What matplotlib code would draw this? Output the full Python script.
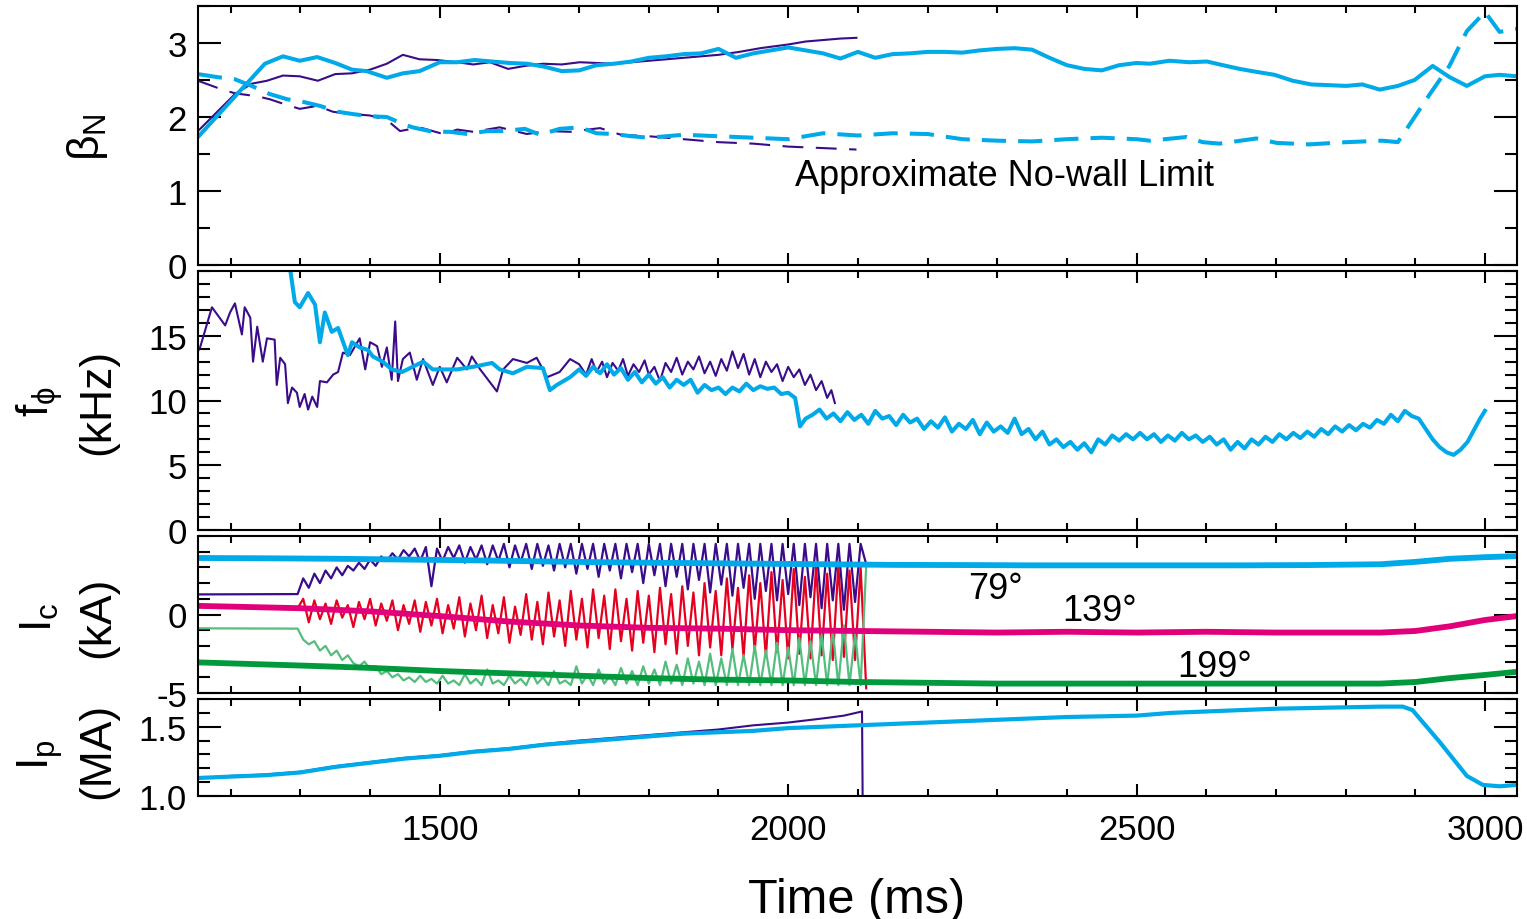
import numpy as np
import matplotlib
matplotlib.use('Agg')
import matplotlib.pyplot as plt
from matplotlib.ticker import MultipleLocator, FixedLocator, FormatStrFormatter

plt.rcParams['font.family'] = 'Liberation Sans'
plt.rcParams['mathtext.fontset'] = 'custom'
plt.rcParams['mathtext.rm'] = 'Liberation Sans'
plt.rcParams['mathtext.it'] = 'Liberation Sans'
plt.rcParams['axes.unicode_minus'] = False

CYAN = '#00A9E8'
PURPLE = '#3A0C8A'
MAGENTA = '#E2007A'
RED = '#E6001F'
GREEN = '#009A3D'
LGREEN = '#55BD7D'

# ---- beta_N panel ----
bn_cyan_t = [1153, 1249, 1275, 1299, 1324, 1350, 1374, 1395, 1424, 1447, 1471, 1500, 1525, 1550, 1575,
             1600, 1625, 1650, 1675, 1700, 1725, 1750, 1775, 1800, 1825, 1850, 1875, 1900, 1925, 1950,
             1975, 2000, 2025, 2050, 2075, 2100, 2125, 2150, 2175, 2200, 2225, 2250, 2275, 2300, 2325,
             2350, 2375, 2400, 2425, 2450, 2475, 2500, 2519, 2547, 2576, 2601, 2624, 2648, 2672, 2698,
             2724, 2751, 2777, 2801, 2824, 2849, 2875, 2899, 2925, 2949, 2974, 3000, 3021, 3046]
bn_cyan = [1.73, 2.72, 2.82, 2.76, 2.81, 2.73, 2.64, 2.62, 2.53, 2.59, 2.62, 2.74, 2.74, 2.77, 2.75,
           2.73, 2.72, 2.68, 2.62, 2.63, 2.70, 2.72, 2.75, 2.80, 2.82, 2.85, 2.86, 2.92, 2.80, 2.86,
           2.90, 2.94, 2.90, 2.86, 2.79, 2.88, 2.80, 2.85, 2.86, 2.88, 2.88, 2.87, 2.90, 2.92, 2.93,
           2.91, 2.80, 2.70, 2.65, 2.63, 2.70, 2.73, 2.72, 2.76, 2.74, 2.75, 2.70, 2.65, 2.61, 2.57,
           2.49, 2.44, 2.43, 2.42, 2.44, 2.37, 2.42, 2.50, 2.69, 2.54, 2.42, 2.55, 2.57, 2.55]

bn_purple_t = [1153, 1206, 1230, 1252, 1275, 1299, 1325, 1350, 1374, 1400, 1424, 1447, 1471, 1496,
               1525, 1548, 1572, 1598, 1622, 1648, 1675, 1701, 1750, 1800, 1850, 1900, 1930, 1960,
               2000, 2025, 2050, 2075, 2098]
bn_purple = [1.81, 2.31, 2.45, 2.49, 2.56, 2.55, 2.49, 2.58, 2.59, 2.64, 2.72, 2.84, 2.78, 2.77,
             2.74, 2.71, 2.74, 2.65, 2.69, 2.72, 2.71, 2.74, 2.72, 2.76, 2.80, 2.84, 2.88, 2.93,
             2.98, 3.02, 3.04, 3.06, 3.07]

nw_cyan_t = [1153, 1180, 1206, 1230, 1256, 1281, 1306, 1328, 1354, 1375, 1400, 1424, 1446, 1461, 1490,
             1514, 1540, 1568, 1591, 1622, 1644, 1672, 1701, 1725, 1750, 1775, 1800, 1850, 1900, 1950,
             2000, 2050, 2100, 2150, 2200, 2250, 2300, 2350, 2400, 2450, 2500, 2519, 2572, 2595, 2619,
             2672, 2701, 2748, 2801, 2853, 2875, 2921, 2949, 2974, 3000, 3021, 3046]
nw_cyan = [2.58, 2.54, 2.51, 2.42, 2.31, 2.24, 2.20, 2.15, 2.07, 2.04, 2.01, 2.00, 1.91, 1.86, 1.80,
           1.80, 1.77, 1.81, 1.81, 1.84, 1.76, 1.84, 1.86, 1.78, 1.77, 1.74, 1.72, 1.76, 1.74, 1.72,
           1.70, 1.78, 1.75, 1.78, 1.77, 1.70, 1.68, 1.67, 1.70, 1.72, 1.70, 1.68, 1.73, 1.66, 1.64,
           1.71, 1.65, 1.63, 1.66, 1.68, 1.66, 2.31, 2.69, 3.16, 3.42, 3.15, 3.19]

nw_purple_t = [1153, 1185, 1206, 1238, 1256, 1275, 1299, 1324, 1347, 1375, 1400, 1424, 1443, 1471,
               1505, 1525, 1548, 1586, 1625, 1654, 1687, 1730, 1760, 1800, 1850, 1900, 1950, 2000,
               2050, 2098]
nw_purple = [2.49, 2.38, 2.32, 2.28, 2.24, 2.18, 2.11, 2.15, 2.07, 2.04, 2.02, 1.96, 1.81, 1.86,
             1.77, 1.83, 1.80, 1.86, 1.77, 1.81, 1.80, 1.85, 1.76, 1.74, 1.70, 1.66, 1.64, 1.60,
             1.58, 1.56]

# ---- f_phi panel ----
f_purple_t = [1153, 1156, 1173, 1192, 1199, 1206, 1216, 1220, 1228, 1232, 1238, 1246, 1252, 1263, 1266,
              1271, 1278, 1282, 1288, 1295, 1299, 1306, 1311, 1317, 1324, 1328, 1338, 1347, 1354, 1361,
              1371, 1385, 1393, 1400, 1410, 1417, 1424, 1431, 1436, 1440, 1447, 1457, 1467, 1476, 1490,
              1500, 1510, 1525, 1539, 1546, 1558, 1582, 1591, 1605, 1625, 1639, 1654, 1672, 1687,
              1700, 1710, 1718, 1725, 1733, 1740, 1748, 1756, 1763, 1770, 1778, 1786, 1794, 1800, 1808,
              1816, 1824, 1832, 1840, 1848, 1856, 1864, 1872, 1880, 1888, 1896, 1904, 1912, 1920, 1928,
              1936, 1944, 1952, 1960, 1968, 1976, 1984, 1992, 2000, 2008, 2016, 2024, 2032, 2040, 2048,
              2056, 2062, 2067]
f_purple = [13.8, 14.1, 17.2, 15.8, 16.8, 17.5, 15.1, 17.2, 16.4, 13.0, 15.7, 13.0, 14.8, 14.7, 11.2,
            13.3, 12.8, 9.8, 11.0, 10.6, 9.5, 10.5, 9.3, 10.3, 9.5, 11.5, 11.4, 12.0, 12.2, 13.7,
            13.5, 14.8, 12.4, 14.5, 14.2, 12.6, 14.1, 11.6, 16.1, 11.5, 13.2, 13.7, 11.6, 13.2, 11.2,
            12.6, 11.4, 13.3, 12.4, 13.4, 12.4, 10.7, 12.4, 13.2, 12.9, 13.3, 11.8, 12.2, 13.2,
            12.8, 12.0, 13.2, 12.2, 13.0, 11.8, 12.9, 12.3, 13.2, 11.9, 12.8, 12.2, 13.1, 12.0, 12.6,
            11.5, 12.9, 12.2, 13.3, 12.0, 13.0, 12.4, 13.4, 12.1, 13.0, 11.9, 13.2, 12.3, 13.8, 12.5,
            13.6, 12.0, 13.2, 11.8, 13.0, 12.2, 12.8, 11.5, 12.6, 11.8, 12.4, 11.2, 12.0, 10.8, 11.5,
            10.2, 10.8, 9.8]

f_cyan_t = [1283, 1292, 1299, 1311, 1321, 1328, 1335, 1345, 1354, 1368, 1374, 1385, 1397, 1404, 1418,
            1431, 1446, 1461, 1476, 1490, 1505, 1525, 1548, 1575, 1586, 1605, 1625, 1648, 1658, 1668,
            1687, 1700, 1710, 1720, 1730, 1740, 1750, 1760, 1770, 1780, 1790, 1800, 1810, 1820, 1830,
            1840, 1850, 1860, 1870, 1880, 1890, 1900, 1910, 1920, 1930, 1940, 1950, 1960, 1970, 1980,
            1990, 2000, 2010, 2017, 2025, 2035, 2045, 2055, 2065, 2075, 2085, 2095, 2105, 2115, 2125,
            2135, 2145, 2155, 2165, 2175, 2185, 2195, 2205, 2215, 2225, 2235, 2245, 2255, 2265, 2275,
            2285, 2295, 2305, 2315, 2325, 2335, 2345, 2355, 2365, 2375, 2385, 2395, 2405, 2415, 2425,
            2435, 2445, 2455, 2465, 2475, 2485, 2495, 2505, 2515, 2525, 2535, 2545, 2555, 2565, 2575,
            2585, 2595, 2605, 2615, 2625, 2635, 2645, 2655, 2665, 2675, 2685, 2695, 2705, 2715, 2725,
            2735, 2745, 2755, 2765, 2775, 2785, 2795, 2805, 2815, 2825, 2835, 2845, 2855, 2865, 2875,
            2885, 2895, 2905, 2915, 2925, 2935, 2945, 2955, 2965, 2975, 2985, 2993, 3000]
f_cyan = [21.0, 17.6, 17.2, 18.3, 17.4, 14.5, 16.8, 15.3, 15.6, 13.5, 14.5, 14.1, 13.9, 13.4, 13.0,
          12.4, 12.2, 12.6, 13.0, 12.4, 12.4, 12.4, 12.6, 12.9, 12.4, 12.1, 12.6, 12.5, 10.8, 11.2,
          11.8, 12.4, 11.9, 12.6, 12.1, 12.8, 12.0, 12.5, 11.6, 12.2, 11.4, 12.0, 11.3, 11.8, 11.0,
          11.6, 11.2, 11.6, 10.6, 11.2, 10.8, 11.0, 10.5, 11.0, 10.7, 11.3, 10.8, 11.1, 10.9, 11.0,
          10.5, 10.6, 10.2, 8.0, 8.6, 8.9, 9.3, 8.6, 9.0, 8.4, 9.1, 8.5, 8.9, 8.2, 9.2,
          8.6, 8.8, 8.1, 8.9, 8.3, 8.6, 7.8, 8.4, 7.9, 8.7, 7.6, 8.2, 7.8, 8.5, 7.4,
          8.3, 7.6, 8.0, 7.5, 8.6, 7.4, 7.8, 7.0, 7.6, 6.6, 7.0, 6.4, 6.8, 6.2, 6.7,
          6.0, 7.0, 6.6, 7.3, 6.9, 7.4, 7.0, 7.5, 7.0, 7.4, 6.8, 7.3, 6.9, 7.5, 7.0,
          7.3, 6.8, 7.2, 6.6, 7.0, 6.2, 6.8, 6.3, 7.0, 6.6, 7.2, 6.8, 7.4, 7.0, 7.5,
          7.1, 7.6, 7.2, 7.8, 7.4, 8.0, 7.6, 8.1, 7.7, 8.2, 7.9, 8.5, 8.2, 8.9, 8.4,
          9.2, 8.8, 8.6, 7.8, 7.0, 6.4, 6.0, 5.8, 6.2, 6.8, 7.8, 8.6, 9.2]

# ---- coil current panel (kA) ----
ic79_t = [1153, 1250, 1350, 1450, 1550, 1650, 1750, 1850, 1950, 2050, 2150, 2250, 2350, 2450, 2550,
          2650, 2750, 2850, 2900, 2950, 3000, 3046]
ic79 = [3.6, 3.58, 3.55, 3.5, 3.45, 3.38, 3.32, 3.28, 3.24, 3.2, 3.16, 3.15, 3.13, 3.13, 3.13,
        3.13, 3.15, 3.2, 3.35, 3.55, 3.65, 3.72]
ic139_t = [1153, 1300, 1400, 1500, 1600, 1700, 1800, 1900, 2000, 2100, 2200, 2300, 2400, 2500, 2600,
           2700, 2800, 2850, 2900, 2950, 3000, 3046]
ic139 = [0.55, 0.4, 0.2, -0.1, -0.45, -0.7, -0.85, -0.9, -1.0, -1.05, -1.1, -1.15, -1.1, -1.15, -1.1,
         -1.15, -1.15, -1.15, -1.05, -0.75, -0.35, -0.1]
ic199_t = [1153, 1300, 1400, 1500, 1600, 1700, 1800, 1900, 2000, 2100, 2200, 2300, 2400, 2500, 2600,
           2700, 2800, 2850, 2900, 2950, 3000, 3046]
ic199 = [-3.05, -3.25, -3.4, -3.6, -3.75, -3.9, -4.05, -4.15, -4.2, -4.3, -4.35, -4.4, -4.4, -4.4, -4.4,
         -4.4, -4.4, -4.4, -4.3, -4.05, -3.85, -3.65]

# second discharge, sampled every 8 ms from 1296 to 2112
ic79_b = [1.3, 2.3, 1.7, 2.6, 2.0, 2.8, 2.3, 3.0, 2.5, 3.1, 2.8, 3.3, 2.9, 3.5, 3.1, 3.7, 3.4, 3.9, 3.5,
          4.1, 3.7, 4.2, 3.4, 4.3, 1.8, 4.2, 3.4, 4.3, 3.6, 4.4, 3.3, 4.3, 3.5, 4.4, 3.2, 4.4, 3.4, 4.5,
          3.0, 4.4, 3.3, 4.5, 2.9, 4.5, 3.1, 4.4, 2.8, 4.5, 3.0, 4.5, 2.6, 4.5, 2.9, 4.5, 2.4, 4.5, 2.8,
          4.5, 2.3, 4.5, 2.7, 4.5, 2.0, 4.5, 2.5, 4.5, 1.8, 4.5, 2.4, 4.5, 1.6, 4.5, 2.2, 4.5, 1.4, 4.5,
          1.9, 4.5, 1.2, 4.5, 1.7, 4.5, 1.0, 4.5, 1.5, 4.5, 0.9, 4.5, 1.3, 4.5, 0.6, 4.5, 1.1, 4.5, 0.4,
          4.5, 0.9, 4.5, 0.3, 4.5, 0.8, 4.5, 3.2]
ic139_b = [0.4, 1.0, -0.5, 0.9, -0.3, 0.7, -0.6, 0.9, -0.2, 0.6, -0.8, 0.8, -0.3, 1.0, -0.7, 0.7, -0.4,
           0.9, -1.0, 0.6, -0.6, 0.9, -1.1, 0.8, -0.7, 1.0, -1.2, 0.6, -0.9, 1.1, -1.4, 0.7, -1.0, 1.2,
           -1.5, 0.6, -1.2, 1.1, -1.8, 0.5, -1.3, 1.3, -1.6, 0.8, -1.9, 1.4, -1.4, 0.9, -2.0, 1.5, -1.6,
           1.0, -2.1, 1.6, -1.5, 1.2, -2.2, 1.6, -1.7, 1.0, -2.3, 1.5, -1.8, 1.2, -2.4, 1.7, -1.9, 1.3,
           -2.5, 1.8, -2.0, 1.4, -2.6, 2.0, -2.1, 1.5, -2.6, 2.3, -2.2, 1.7, -2.7, 2.5, -2.3, 2.0, -2.7,
           2.7, -2.4, 2.2, -2.8, 2.9, -2.5, 2.4, -2.8, 3.0, -2.6, 2.6, -2.9, 3.1, -2.7, 2.8, -2.9, 3.0,
           -4.7]
ic199_b = [-0.9, -1.6, -1.9, -1.7, -2.3, -2.0, -2.6, -2.3, -2.9, -2.6, -3.1, -3.3, -3.0, -3.5, -3.3,
           -3.8, -3.6, -4.0, -3.8, -4.2, -4.0, -4.3, -3.9, -4.3, -4.1, -4.4, -3.9, -4.4, -4.2, -4.5,
           -3.8, -4.4, -4.1, -4.5, -3.5, -4.4, -4.2, -4.5, -3.9, -4.4, -4.1, -4.5, -3.7, -4.4, -4.0,
           -4.5, -3.6, -4.4, -4.2, -4.5, -3.3, -4.4, -3.8, -4.5, -3.5, -4.4, -3.9, -4.5, -3.4, -4.4,
           -3.6, -4.5, -3.3, -4.4, -3.5, -4.5, -3.0, -4.4, -3.2, -4.5, -2.8, -4.4, -3.0, -4.5, -2.5,
           -4.5, -2.8, -4.5, -2.2, -4.5, -2.6, -4.5, -2.0, -4.5, -2.3, -4.5, -1.8, -4.5, -2.1, -4.5,
           -1.5, -4.5, -1.7, -4.5, -1.3, -4.5, -1.0, -4.5, -0.7, -4.5, -1.2, -4.5, 3.1]

# ---- plasma current panel (MA) ----
ip_cyan_t = [1153, 1200, 1250, 1300, 1350, 1400, 1450, 1500, 1550, 1600, 1650, 1700, 1750, 1800, 1850,
             1900, 1950, 2000, 2050, 2100, 2150, 2200, 2250, 2300, 2350, 2400, 2450, 2500, 2550, 2600,
             2650, 2700, 2750, 2800, 2850, 2882, 2896, 2935, 2974, 2997, 3021, 3046]
ip_cyan = [1.13, 1.14, 1.15, 1.17, 1.21, 1.24, 1.27, 1.29, 1.32, 1.34, 1.37, 1.39, 1.41, 1.43, 1.45,
           1.46, 1.47, 1.49, 1.50, 1.51, 1.52, 1.53, 1.54, 1.55, 1.56, 1.57, 1.575, 1.58, 1.60, 1.61,
           1.62, 1.63, 1.635, 1.64, 1.645, 1.645, 1.62, 1.39, 1.145, 1.08, 1.07, 1.08]
ip_purple_t = [1153, 1200, 1250, 1300, 1350, 1400, 1450, 1500, 1550, 1600, 1650, 1700, 1750, 1800,
               1850, 1900, 1950, 2000, 2050, 2080, 2106, 2107]
ip_purple = [1.13, 1.145, 1.155, 1.175, 1.215, 1.245, 1.275, 1.295, 1.325, 1.345, 1.375, 1.40, 1.42,
             1.44, 1.46, 1.48, 1.51, 1.53, 1.56, 1.58, 1.61, 0.9]

fig = plt.figure(figsize=(15.27, 9.2), dpi=100)
L, W = 198 / 1527, 1319 / 1527
ax1 = fig.add_axes([L, 1 - 266 / 920, W, 259 / 920])
ax2 = fig.add_axes([L, 1 - 531 / 920, W, 259 / 920])
ax3 = fig.add_axes([L, 1 - 694 / 920, W, 157 / 920])
ax4 = fig.add_axes([L, 1 - 797 / 920, W, 97 / 920])

ax1.plot(nw_purple_t, nw_purple, color=PURPLE, lw=1.5, dashes=(10, 6))
ax1.plot(bn_purple_t, bn_purple, color=PURPLE, lw=1.5)
ax1.plot(nw_cyan_t, nw_cyan, color=CYAN, lw=2.9, dashes=(6, 3))
ax1.plot(bn_cyan_t, bn_cyan, color=CYAN, lw=2.9)
ax1.text(2010, 1.08, 'Approximate No-wall Limit', fontsize=26, va='baseline')

ax2.plot(f_purple_t, f_purple, color=PURPLE, lw=1.5)
ax2.plot(f_cyan_t, f_cyan, color=CYAN, lw=2.9)

tb = np.linspace(1296, 2112, len(ic79_b))
ax3.plot([1153] + list(tb), [1.28] + ic79_b, color=PURPLE, lw=1.6)
ax3.plot(np.linspace(1296, 2112, len(ic139_b)), ic139_b, color=RED, lw=1.6)
ax3.plot([1153] + list(np.linspace(1296, 2112, len(ic199_b))), [-0.88] + ic199_b, color=LGREEN, lw=1.6)
ax3.plot(ic79_t, ic79, color=CYAN, lw=4.2)
ax3.plot(ic139_t, ic139, color=MAGENTA, lw=4.2)
ax3.plot(ic199_t, ic199, color=GREEN, lw=4.2)
ax3.text(2258, 1.03, '79°', fontsize=26, va='baseline')
ax3.text(2393, -0.38, '139°', fontsize=26, va='baseline')
ax3.text(2558, -3.9, '199°', fontsize=26, va='baseline')

ax4.plot(ip_purple_t, ip_purple, color=PURPLE, lw=1.5)
ax4.plot(ip_cyan_t, ip_cyan, color=CYAN, lw=3)

ax1.set_ylim(0, 3.5)
ax1.yaxis.set_major_locator(FixedLocator([0, 1, 2, 3]))
ax1.yaxis.set_minor_locator(MultipleLocator(0.5))
ax2.set_ylim(0, 20)
ax2.yaxis.set_major_locator(FixedLocator([0, 5, 10, 15]))
ax2.yaxis.set_minor_locator(MultipleLocator(1))
ax3.set_ylim(-5, 5)
ax3.yaxis.set_major_locator(FixedLocator([-5, 0]))
ax3.yaxis.set_minor_locator(MultipleLocator(1))
ax4.set_ylim(1.0, 1.7)
ax4.yaxis.set_major_locator(FixedLocator([1.0, 1.5]))
ax4.yaxis.set_minor_locator(MultipleLocator(0.1))
ax4.yaxis.set_major_formatter(FormatStrFormatter('%.1f'))

for ax in [ax1, ax2, ax3, ax4]:
    ax.set_xlim(1153, 3046)
    ax.xaxis.set_major_locator(MultipleLocator(500))
    ax.xaxis.set_minor_locator(MultipleLocator(100))
    ax.tick_params(which='both', direction='in', top=True, right=True, width=1.5, labelsize=25)
    ax.tick_params(axis='y', which='major', length=16.5, pad=8)
    ax.tick_params(axis='y', which='minor', length=8.5)
    ax.tick_params(axis='x', which='major', length=8.5, pad=12)
    ax.tick_params(axis='x', which='minor', length=5)
    for s in ax.spines.values():
        s.set_linewidth(1.5)
    if ax is not ax4:
        ax.tick_params(labelbottom=False)

# y axis labels
fig.text(87 / 1527, 1 - 137 / 920, r'$\beta_\mathrm{N}$', fontsize=32, rotation=90, ha='center', va='center')
fig.text(40 / 1527, 1 - 401 / 920, r'$\mathrm{f}_\phi$', fontsize=32, rotation=90, ha='center', va='center')
fig.text(98 / 1527, 1 - 402 / 920, '(kHz)', fontsize=32, rotation=90, ha='center', va='center')
fig.text(40 / 1527, 1 - 617 / 920, r'$\mathrm{I_c}$', fontsize=32, rotation=90, ha='center', va='center')
fig.text(98 / 1527, 1 - 617 / 920, '(kA)', fontsize=32, rotation=90, ha='center', va='center')
fig.text(40 / 1527, 1 - 755 / 920, r'$\mathrm{I_p}$', fontsize=32, rotation=90, ha='center', va='center')
fig.text(98 / 1527, 1 - 751 / 920, '(MA)', fontsize=32, rotation=90, ha='center', va='center')
fig.text(857 / 1527, 1 - 913 / 920, 'Time (ms)', fontsize=35, ha='center', va='baseline')

plt.savefig('out.png', dpi=100)
